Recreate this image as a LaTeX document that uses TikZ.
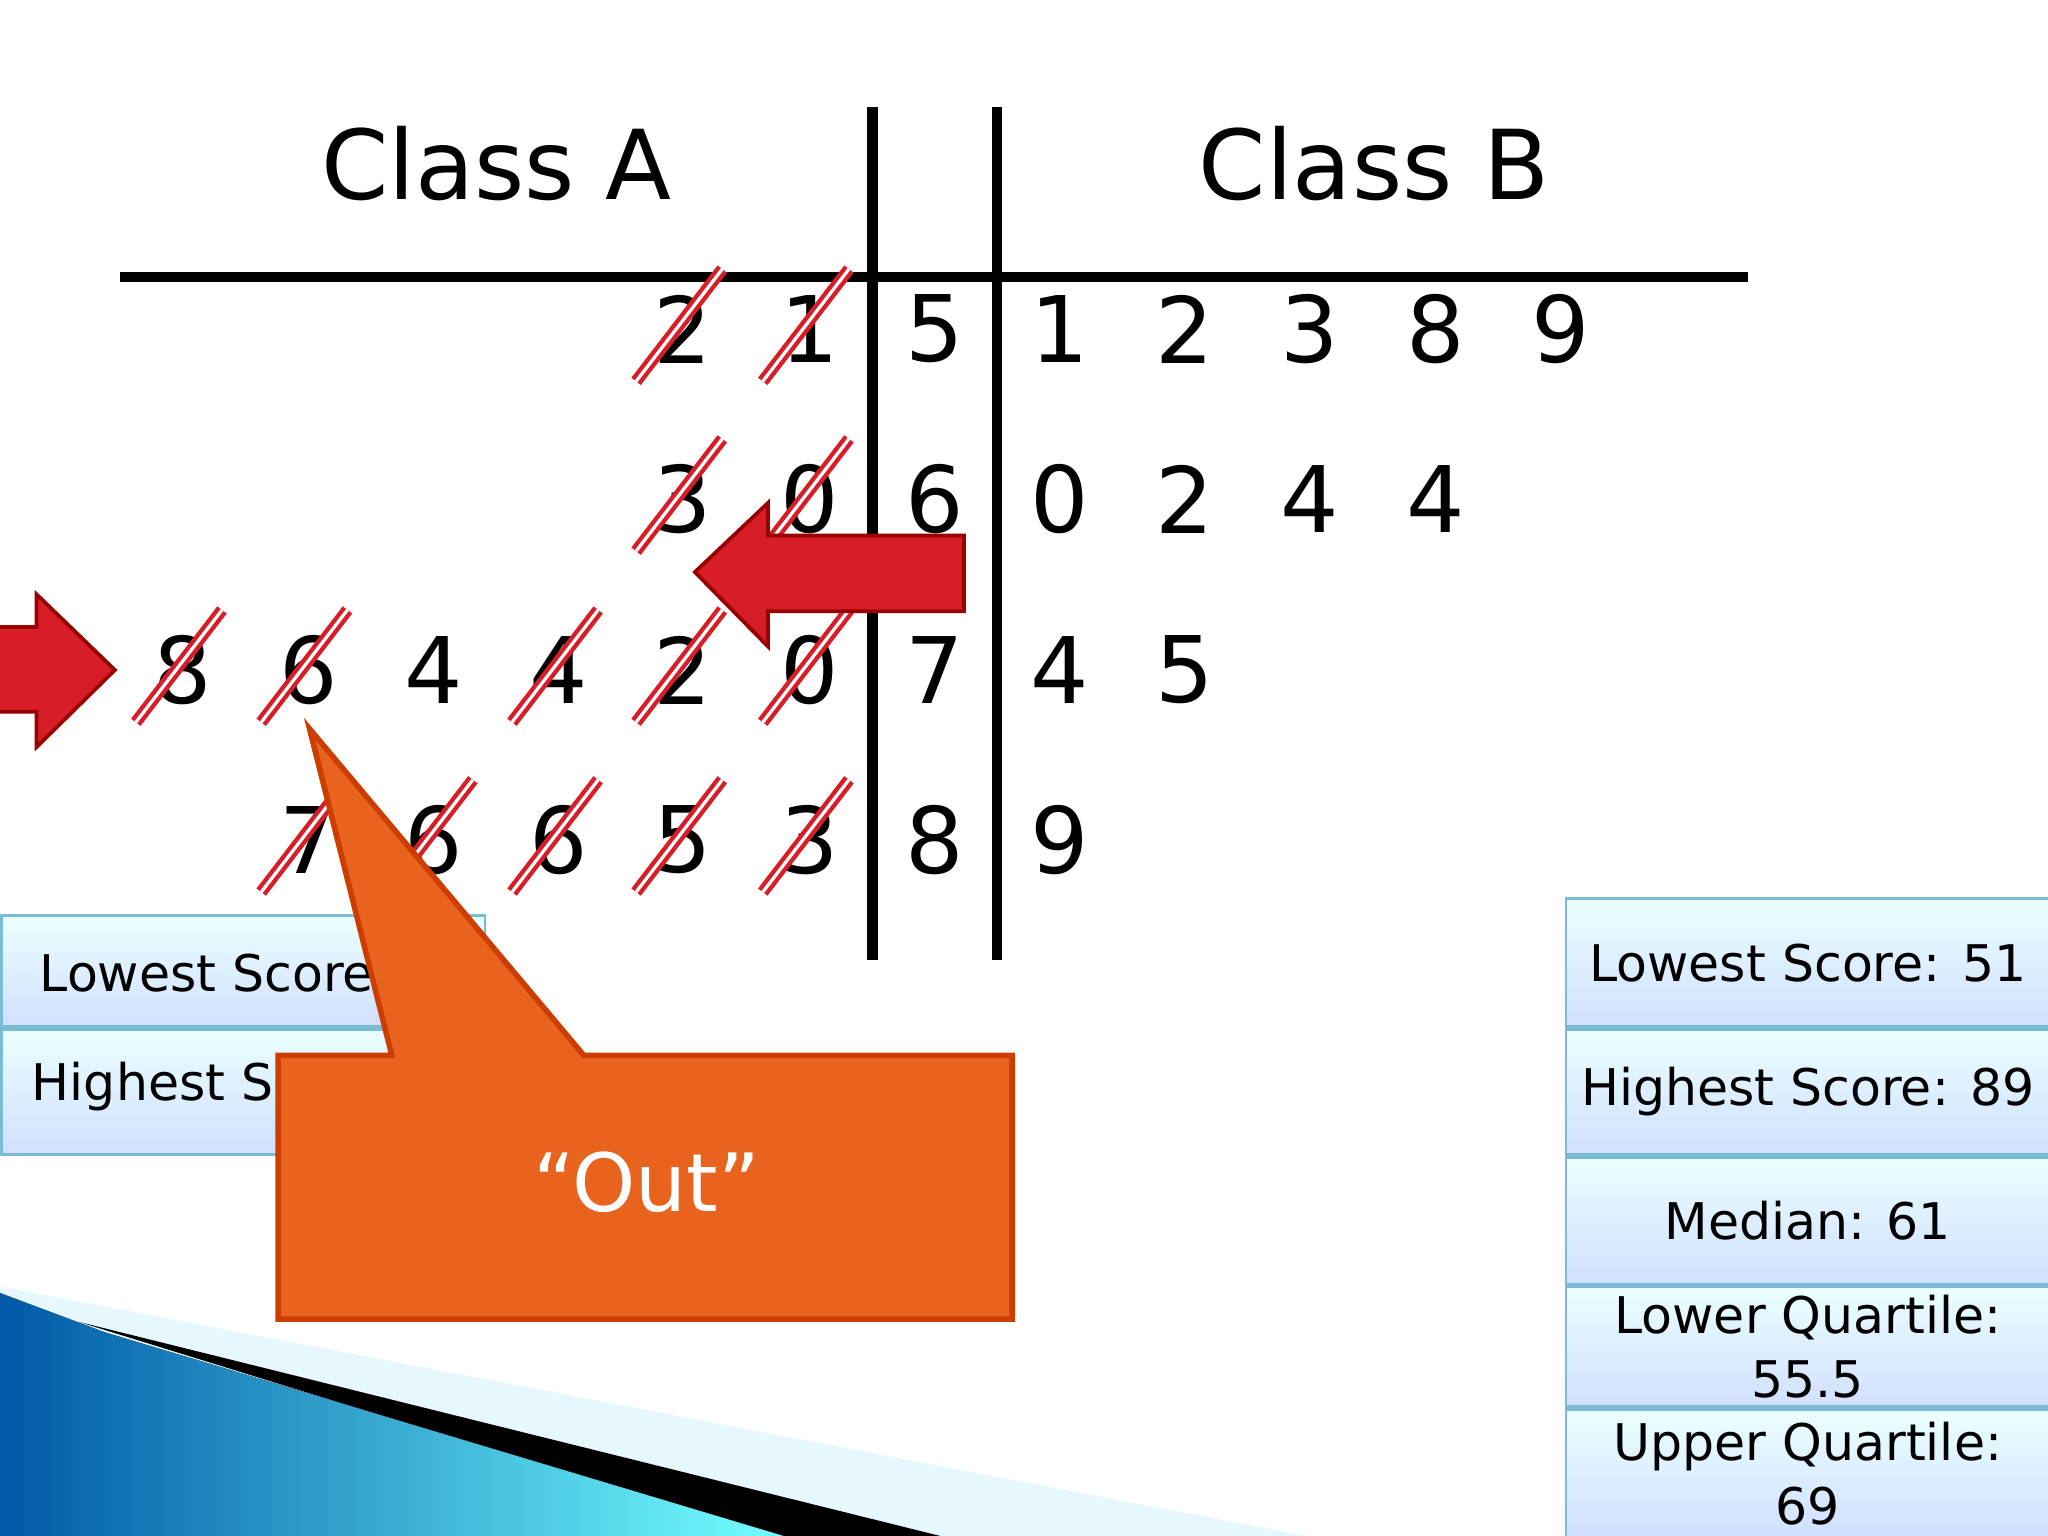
\documentclass[tikz,border=0pt]{standalone}
\usepackage{fontspec}
\setmainfont{DejaVu Sans}
\definecolor{arrred}{RGB}{215,30,40}
\definecolor{callor}{RGB}{232,100,30}
\begin{document}
\begin{tikzpicture}[x=0.01cm,y=-0.01cm,
  dig/.style={font=\fontsize{20}{24}\selectfont,inner sep=0pt},
  ttl/.style={font=\fontsize{21}{26}\selectfont},
  bluebox/.style={draw=cyan!45!teal!60,line width=0.6pt,top color=cyan!8,bottom color=cyan!30!blue!18,font=\fontsize{11}{14}\selectfont,align=center,inner sep=0pt,minimum width=3.7cm,anchor=north west},
  btxt/.style={anchor=west,font=\fontsize{11}{14}\selectfont},
  rail/.style={line width=2.2pt,black},
  strk/.style={draw=arrred,line width=2.6pt},
  strkw/.style={draw=white,line width=0.7pt},
  redarrow/.style={fill=arrred,draw=red!60!black,line width=0.8pt}]
\useasboundingbox (0,0) rectangle (1568,1176);
\fill[white] (0,0) rectangle (1568,1176);
% swoosh
\fill[cyan!10!white] (0,985) -- (1000,1176) -- (0,1176) -- cycle;
\fill[black] (60,1012) -- (720,1176) -- (590,1176) -- cycle;
\fill[left color=teal!70!blue,right color=cyan!55] (0,990) -- (80,1020) -- (600,1176) -- (0,1176) -- cycle;
% lines
\coordinate (v1t) at (668,82); \coordinate (v1b) at (668,735);
\coordinate (v2t) at (763,82); \coordinate (v2b) at (763,735);
\coordinate (hl) at (92,212); \coordinate (hr) at (1338,212);
\draw[rail] (v1t) -- (v1b); \draw[rail] (v2t) -- (v2b); \draw[rail] (hl) -- (hr);
\node[ttl] (ca) at (380,125) {Class A};
\node[ttl] (cb) at (1052,125) {Class B};
% stems
\foreach \y/\s [count=\i] in {252/5,382/6,513/7,643/8} \node[dig] (s\i) at (716,\y) {\s};
% class B leaves
\foreach \d [count=\j] in {1,2,3,8,9} \node[dig] (b1\j) at (811+96*\j-96,252) {\d};
\foreach \d [count=\j] in {0,2,4,4} \node[dig] (b2\j) at (811+96*\j-96,382) {\d};
\foreach \d [count=\j] in {4,5} \node[dig] (b3\j) at (811+96*\j-96,513) {\d};
\node[dig] (b41) at (811,643) {9};
% class A leaves
\foreach \x/\y/\d/\s [count=\k] in {523/252/2/1,620/252/1/1,523/382/3/1,620/382/0/1,
  140/513/8/1,236/513/6/1,332/513/4/0,428/513/4/1,523/513/2/1,620/513/0/1,
  236/643/7/1,332/643/6/1,428/643/6/1,523/643/5/1,620/643/3/1}{
  \node[dig] (a\k) at (\x,\y) {\d};
  \ifnum\s=1
   \draw[strk] ([shift={(-36,40)}]a\k.center) -- ([shift={(30,-46)}]a\k.center);
   \draw[strkw] ([shift={(-36,40)}]a\k.center) -- ([shift={(30,-46)}]a\k.center);
  \fi}
% arrows
\draw[redarrow] (0,480) -- (28,480) -- (28,455) -- (88,513) -- (28,572) -- (28,545) -- (0,545);
\draw[redarrow] (738,410) -- (588,410) -- (588,385) -- (532,438) -- (588,495) -- (588,468) -- (738,468) -- cycle;
% left boxes
\node[bluebox,minimum height=0.85cm] (l1) at (0,700) {};
\node[btxt] (l1t) at (18,745) {Lowest Score: 53};
\node[bluebox,minimum height=0.96cm] (l2) at (0,787) {};
\node[btxt] (l2t) at (12,832) {Highest Score: 88};
% callout
\draw[fill=callor,draw=orange!60!red!80!black,line width=1.2pt] (213,808) -- (300,808) -- (237,558) -- (447,808) -- (775,808) -- (775,1010) -- (213,1010) -- cycle;
\node[white,font=\fontsize{17.5}{20}\selectfont] (out) at (495,905) {“Out”};
% right boxes
\node[bluebox,minimum height=0.98cm] (r1) at (1198,687) {Lowest Score: 51};
\node[bluebox,minimum height=0.96cm] (r2) at (1198,787) {Highest Score: 89};
\node[bluebox,minimum height=0.97cm] (r3) at (1198,885) {Median: 61};
\node[bluebox,minimum height=0.92cm] (r4) at (1198,984) {Lower Quartile:\\55.5};
\node[bluebox,minimum height=0.98cm] (r5) at (1198,1078) {Upper Quartile:\\69};
\end{tikzpicture}
\end{document}
